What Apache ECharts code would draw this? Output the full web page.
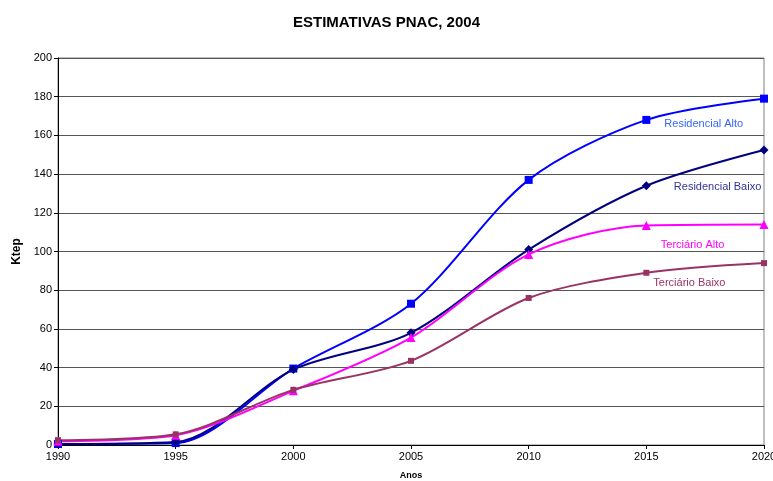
<!DOCTYPE html>
<html><head><meta charset="utf-8">
<script src="https://cdn.jsdelivr.net/npm/echarts@6/dist/echarts.min.js"></script>
<style>html,body{margin:0;padding:0;background:#fff}#c{width:773px;height:481px}</style>
</head><body><div id="c"></div>
<script>
const years = [1990, 1995, 2000, 2005, 2010, 2015, 2020];
const residencialAlto = [0.5, 1, 39.5, 73, 137, 168, 179];
const residencialBaixo = [0.5, 1.5, 39, 58, 101, 134, 152.5];
const terciarioAlto = [2, 5, 28, 55.5, 98.5, 113.5, 114];
const terciarioBaixo = [2.5, 5.5, 28.5, 43.5, 76, 89, 94];
const seriesNames = ['Residencial Alto', 'Residencial Baixo', 'Terciário Alto', 'Terciário Baixo'];
const yTicks = [0, 20, 40, 60, 80, 100, 120, 140, 160, 180, 200];

const font = 'Liberation Sans, Arial, sans-serif';
function build(vals, name, labelColor, offset) {
  return years.map((y, i) => {
    const d = { value: [y, vals[i]] };
    if (i === 5) {
      d.label = { show: true, formatter: name, position: 'right', offset: offset,
        color: labelColor, fontSize: 11, fontFamily: font };
    }
    return d;
  });
}
const chart = echarts.init(document.getElementById('c'), null, { renderer: 'canvas' });
chart.setOption({
  animation: false,
  backgroundColor: '#fff',
  title: { text: 'ESTIMATIVAS PNAC, 2004', left: 'center', top: 10,
    textStyle: { fontFamily: font, fontWeight: 'bold', fontSize: 15, color: '#000' } },
  grid: { left: 58, right: 9, top: 58, bottom: 36, show: true, borderColor: '#808080', borderWidth: 1,
    containLabel: false, outerBoundsMode: 'none' },
  xAxis: { type: 'value', min: 1990, max: 2020, interval: 5, name: 'Anos', nameLocation: 'middle', nameGap: 26,
    nameTextStyle: { fontFamily: font, fontWeight: 'bold', fontSize: 9, color: '#000' },
    axisLine: { lineStyle: { color: '#000' } }, axisTick: { show: true, length: 4, lineStyle: { color: '#000' } },
    axisLabel: { fontFamily: font, fontSize: 11, color: '#000', margin: 6, formatter: v => String(v) }, splitLine: { show: false } },
  yAxis: { type: 'value', min: 0, max: 200, interval: 20, name: 'Ktep', nameLocation: 'middle', nameGap: 33,
    nameTextStyle: { fontFamily: font, fontWeight: 'bold', fontSize: 12, color: '#000' },
    axisLine: { show: true, lineStyle: { color: '#000' } }, axisTick: { show: true, length: 4, lineStyle: { color: '#000' } },
    axisLabel: { fontFamily: font, fontSize: 11, color: '#000', margin: 6, formatter: v => yTicks.includes(v) ? String(v) : '' },
    splitLine: { show: true, lineStyle: { color: '#555', width: 1 } } },
  series: [
    { name: seriesNames[0], type: 'line', smooth: 0.3, data: build(residencialAlto, seriesNames[0], '#3366FF', [9, 4]),
      symbol: 'rect', symbolSize: 8, itemStyle: { color: '#0000FF' }, lineStyle: { color: '#0000FF', width: 2 } },
    { name: seriesNames[1], type: 'line', smooth: 0.3, data: build(residencialBaixo, seriesNames[1], '#333399', [18, 1]),
      symbol: 'diamond', symbolSize: 9, itemStyle: { color: '#000080' }, lineStyle: { color: '#000080', width: 2 } },
    { name: seriesNames[2], type: 'line', smooth: 0.3, data: build(terciarioAlto, seriesNames[2], '#FF00FF', [5, 20]),
      symbol: 'triangle', symbolSize: 9, itemStyle: { color: '#FF00FF' }, lineStyle: { color: '#FF00FF', width: 2 } },
    { name: seriesNames[3], type: 'line', smooth: 0.3, data: build(terciarioBaixo, seriesNames[3], '#993366', [-1, 10]),
      symbol: 'rect', symbolSize: 6, itemStyle: { color: '#993366' }, lineStyle: { color: '#993366', width: 2 } }
  ]
});
</script></body></html>
